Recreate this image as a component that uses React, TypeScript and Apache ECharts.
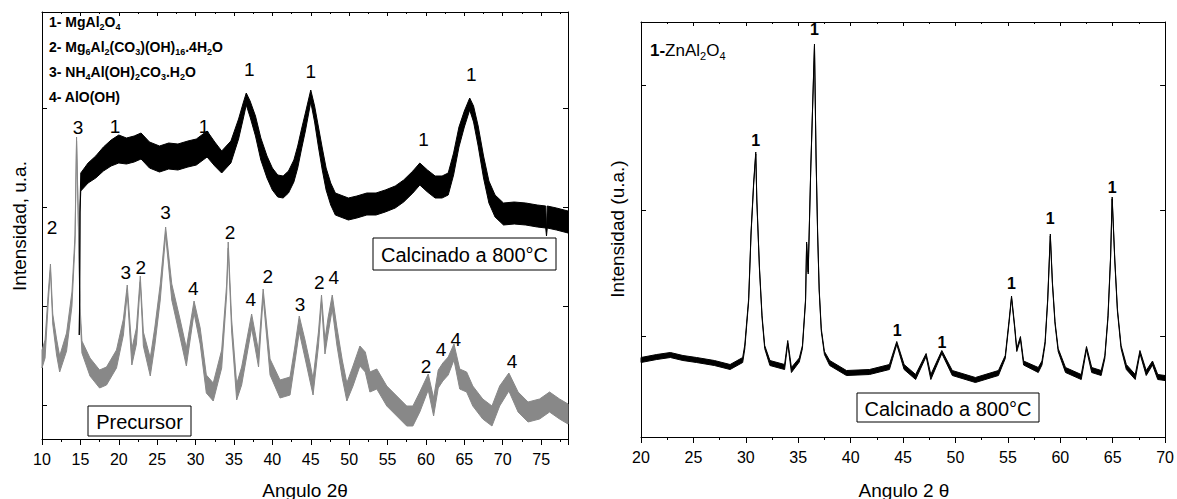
import React, { useEffect, useRef } from "react";
import * as echarts from "echarts";

type Pt = [number, number, number]; // [2theta, intensity (a.u.), noise half-width]
type Lbl = [string, number, number]; // [text, 2theta, intensity]

const FONT = "'Liberation Sans', Arial, Helvetica, sans-serif";

// ---------- Left panel: precursor (grey) ----------
const precursorTrace: Pt[] = [
  [10.0, 80, 9], [10.4, 90, 9], [10.8, 140, 5], [11.1, 172, 3], [11.4, 120, 5], [11.9, 92, 8],
  [12.3, 75, 8], [13.2, 97, 9], [13.9, 140, 7], [14.3, 200, 4], [14.5, 300, 2], [14.7, 230, 3],
  [14.95, 130, 4], [15.2, 92, 6], [16.25, 72, 9], [17.5, 60, 9], [18.4, 63, 9], [19.7, 80, 9],
  [20.6, 112, 8], [21.1, 150, 4], [21.7, 82, 8], [22.3, 103, 8], [22.8, 160, 3], [23.2, 100, 7],
  [24.1, 72, 9], [24.7, 103, 9], [25.4, 147, 8], [26.1, 208, 4], [26.9, 147, 8], [28.0, 110, 9],
  [28.8, 82, 9], [29.8, 132, 6], [30.6, 103, 8], [31.4, 55, 9], [32.3, 47, 9], [33.4, 80, 9],
  [34.05, 150, 5], [34.25, 194, 3], [34.7, 113, 6], [35.35, 47, 8], [36.0, 63, 9], [37.3, 118, 7],
  [38.2, 80, 8], [38.8, 146, 4], [39.7, 72, 8], [41.0, 50, 9], [42.3, 53, 9], [42.9, 83, 8],
  [43.5, 115, 8], [44.25, 90, 9], [44.9, 67, 9], [45.3, 52, 8], [46.0, 100, 7], [46.4, 140, 4],
  [46.85, 92, 7], [47.25, 113, 8], [47.8, 137, 7], [48.4, 103, 9], [49.1, 70, 9], [49.7, 47, 9],
  [50.5, 63, 10], [51.4, 83, 10], [52.1, 77, 10], [52.7, 57, 10], [53.6, 60, 10], [54.9, 43, 10],
  [56.2, 33, 10], [57.5, 23, 10], [58.3, 23, 10], [59.2, 37, 10], [60.3, 57, 8], [61.0, 32, 9],
  [61.6, 60, 9], [62.2, 67, 9], [62.9, 73, 9], [63.65, 87, 8], [64.4, 60, 10], [65.3, 57, 10],
  [66.1, 43, 10], [67.4, 30, 10], [68.6, 23, 10], [69.6, 43, 10], [70.8, 57, 9], [72.0, 37, 10],
  [73.3, 27, 10], [74.8, 30, 10], [76.1, 37, 10], [77.4, 30, 10], [78.5, 25, 10],
];

// ---------- Left panel: calcined at 800 °C (black) ----------
const calcinedMgTrace: Pt[] = [
  [14.85, 105, 1], [14.9, 140, 2], [14.95, 230, 3], [15.05, 257, 9], [16.0, 266, 10], [17.0, 272, 11],
  [18.0, 280, 12], [19.0, 286, 13], [20.0, 290, 14], [21.0, 288, 13], [22.0, 290, 13], [22.9, 293, 13],
  [24.0, 284, 13], [25.3, 280, 13], [26.5, 283, 13], [27.7, 282, 13], [29.0, 285, 13], [30.1, 287, 13],
  [31.5, 295, 13], [32.5, 285, 12], [33.4, 277, 11], [34.6, 287, 11], [35.6, 310, 10], [36.2, 328, 8],
  [36.6, 340, 6], [37.1, 330, 8], [37.8, 313, 10], [38.5, 290, 11], [39.3, 272, 11], [40.0, 260, 11],
  [40.7, 253, 11], [41.4, 252, 11], [42.1, 257, 11], [42.8, 268, 11], [43.3, 282, 11], [43.8, 300, 10],
  [44.3, 317, 9], [45.0, 343, 6], [45.5, 325, 8], [46.0, 302, 10], [46.5, 280, 11], [47.0, 260, 11],
  [47.6, 245, 11], [48.2, 235, 11], [49.9, 230, 11], [51.0, 232, 11], [52.3, 235, 11], [53.5, 235, 11],
  [54.7, 238, 11], [56.0, 242, 11], [57.1, 248, 11], [58.3, 257, 11], [59.2, 265, 11], [60.2, 258, 11],
  [61.2, 252, 11], [62.1, 252, 11], [62.9, 255, 11], [63.6, 275, 11], [64.3, 302, 10], [65.0, 320, 8],
  [65.7, 335, 6], [66.2, 325, 8], [66.8, 303, 10], [67.5, 272, 11], [68.2, 247, 11], [69.0, 233, 11],
  [70.1, 225, 11], [71.5, 226, 11], [73.0, 225, 11], [74.5, 223, 11], [75.6, 222, 11], [75.7, 205, 2],
  [75.8, 222, 11], [77.0, 220, 11], [78.5, 217, 11],
];

// ---------- Right panel: ZnAl2O4 calcined at 800 °C ----------
const calcinedZnTrace: Pt[] = [
  [20.0, 77, 2.5], [21.5, 80, 2.5], [22.8, 82, 2.5], [24.0, 79, 2.5], [25.3, 77, 2.5], [27.0, 74, 2.5],
  [28.5, 70, 2.5], [29.7, 77, 2.5], [29.9, 90, 2], [30.27, 137, 1.2], [30.5, 204, 1], [30.75, 254, 1],
  [30.95, 284, 1], [31.05, 237, 1], [31.3, 169, 1], [31.55, 120, 1.2], [31.8, 90, 1.5], [32.3, 74, 2.5],
  [33.7, 70, 2.5], [34.0, 95, 1.5], [34.35, 67, 2.5], [35.1, 77, 2], [35.4, 90, 1.5], [35.7, 137, 1],
  [35.8, 194, 1], [35.95, 164, 1], [36.2, 270, 1], [36.55, 392, 1], [36.7, 280, 1], [36.85, 204, 1],
  [37.0, 147, 1], [37.2, 107, 1.2], [37.5, 84, 1.5], [38.0, 74, 2.5], [39.6, 64, 2.5], [41.8, 65, 2.5],
  [43.7, 70, 2.5], [44.4, 94, 1.5], [45.1, 70, 2.5], [46.2, 60, 2.5], [47.2, 82, 1.5], [47.65, 60, 2.5],
  [48.7, 85, 1.5], [49.7, 64, 2.5], [51.9, 57, 2.5], [54.1, 64, 2.5], [54.75, 80, 1.5], [55.1, 114, 1.2],
  [55.35, 140, 1], [55.65, 110, 1.2], [55.85, 87, 1.5], [56.2, 99, 1.5], [56.5, 74, 2], [57.9, 67, 2.5],
  [58.25, 74, 2], [58.55, 94, 1.5], [58.8, 137, 1], [59.05, 202, 1], [59.25, 154, 1], [59.5, 114, 1.2],
  [59.8, 87, 1.5], [60.5, 67, 2.5], [62.0, 60, 2.5], [62.5, 89, 1.5], [63.0, 67, 2.5], [63.9, 64, 2.5],
  [64.25, 80, 1.5], [64.55, 120, 1.2], [64.8, 180, 1], [64.95, 239, 1], [65.2, 177, 1], [65.45, 127, 1.2],
  [65.8, 90, 1.5], [66.3, 70, 2.5], [67.15, 60, 2.5], [67.6, 85, 1.5], [68.2, 64, 2.5], [68.8, 74, 2],
  [69.3, 60, 2.5], [70.0, 59, 2.5],
];

// ---------- Peak labels ----------
const leftPeakLabels: Lbl[] = [
  ["1", 19.5, 313], ["1", 31.1, 313], ["1", 37.0, 370], ["1", 45.0, 368], ["1", 59.7, 300], ["1", 65.9, 365],
  ["3", 14.7, 312], ["2", 11.3, 212], ["3", 20.9, 167], ["2", 22.85, 172], ["3", 26.1, 227], ["4", 29.7, 151],
  ["2", 34.5, 207], ["4", 37.2, 140], ["2", 39.4, 163], ["3", 43.6, 135], ["2", 46.1, 157], ["4", 48.0, 162],
  ["2", 60.0, 73], ["4", 61.95, 90], ["4", 63.9, 100], ["4", 71.2, 78],
];
const rightPeakLabels: Lbl[] = [
  ["1", 30.95, 297], ["1", 36.55, 408], ["1", 44.45, 107], ["1", 48.7, 95], ["1", 55.35, 154],
  ["1", 59.05, 219], ["1", 64.95, 250],
];

// ---------- Axis settings ----------
const leftRange = [10, 78.5];
const rightRange = [20, 70];
const leftYMax = 427;
const rightYMax = 415;
const leftYTicks = [34, 133, 232, 331];
const rightYTicks = [101, 227, 352];

function band(data: Pt[], xi: number, yi: number, color: string, z: number) {
  return {
    type: "custom",
    coordinateSystem: "cartesian2d",
    xAxisIndex: xi,
    yAxisIndex: yi,
    silent: true,
    z,
    data: [[data[0][0], data[0][1]]],
    renderItem: (_p: any, api: any) => {
      const upper = data.map((d) => api.coord([d[0], d[1] + d[2]]));
      const lower = data.map((d) => api.coord([d[0], d[1] - d[2]])).reverse();
      return {
        type: "polygon",
        shape: { points: upper.concat(lower) },
        style: { fill: color, stroke: color, lineWidth: 1, lineJoin: "round" },
      };
    },
  };
}

function labels(items: Lbl[], xi: number, yi: number, size: number, weight: string) {
  return {
    type: "scatter",
    xAxisIndex: xi,
    yAxisIndex: yi,
    symbolSize: 1,
    silent: true,
    z: 10,
    itemStyle: { color: "rgba(255,255,255,0)", opacity: 1 },
    data: items.map(([t, x, y]) => ({ name: t, value: [x, y] })),
    label: {
      show: true,
      position: "inside",
      formatter: "{b}",
      color: "#000",
      opacity: 1,
      textBorderWidth: 0,
      fontSize: size,
      fontWeight: weight,
      fontFamily: FONT,
    },
  };
}

const black = { color: "#000", width: 1 };

function xAx(gi: number, range: number[], pos: "bottom" | "top", showMax: boolean) {
  const bottom = pos === "bottom";
  return {
    type: "value",
    gridIndex: gi,
    min: range[0],
    max: range[1],
    interval: 5,
    position: pos,
    axisLine: { show: true, onZero: false, lineStyle: black },
    axisTick: { show: true, inside: !bottom, length: bottom ? 6 : 4, lineStyle: black },
    minorTick: { show: true, splitNumber: 2, length: bottom ? 3 : 2, lineStyle: black },
    axisLabel: {
      show: bottom,
      color: "#000",
      fontSize: 16,
      fontFamily: FONT,
      margin: 12,
      showMaxLabel: showMax,
    },
    splitLine: { show: false },
    minorSplitLine: { show: false },
  };
}

function yAx(gi: number, max: number, pos: "left" | "right", ticks: number[]) {
  return {
    type: "value",
    gridIndex: gi,
    min: 0,
    max,
    position: pos,
    axisLine: { show: true, onZero: false, lineStyle: black },
    axisTick: { show: true, inside: true, length: 5, customValues: ticks, lineStyle: black },
    axisLabel: { show: false },
    splitLine: { show: false },
  };
}

const legendRich = {
  b: { fontSize: 14, fontWeight: "bold", fontFamily: FONT, lineHeight: 18, color: "#000" },
  s: { fontSize: 9, fontWeight: "bold", fontFamily: FONT, lineHeight: 9, verticalAlign: "bottom", color: "#000" },
};
const rightRich = {
  b: { fontSize: 17, fontWeight: "bold", fontFamily: FONT, lineHeight: 22, color: "#000" },
  n: { fontSize: 17, fontFamily: FONT, lineHeight: 22, color: "#000" },
  s: { fontSize: 11, fontFamily: FONT, lineHeight: 11, verticalAlign: "bottom", color: "#000" },
};

const leftLegendLines = [
  "{b|1- MgAl}{s|2}{b|O}{s|4}",
  "{b|2- Mg}{s|6}{b|Al}{s|2}{b|(CO}{s|3}{b|)(OH)}{s|16}{b|.4H}{s|2}{b|O}",
  "{b|3- NH}{s|4}{b|Al(OH)}{s|2}{b|CO}{s|3}{b|.H}{s|2}{b|O}",
  "{b|4- AlO(OH)}",
];

function boxedText(x: number, y: number, w: number, h: number, text: string, size: number) {
  return [
    {
      type: "rect",
      z: 100,
      shape: { x, y, width: w, height: h },
      style: { fill: "#fff", stroke: "#000", lineWidth: 1 },
    },
    {
      type: "text",
      z: 101,
      x: x + w / 2,
      y: y + h / 2 + 1,
      style: { text, font: `${size}px ${FONT}`, fill: "#000", align: "center", verticalAlign: "middle" },
    },
  ];
}

function plainText(x: number, y: number, text: string, size: number, rot = 0) {
  return {
    type: "text",
    z: 101,
    x,
    y,
    rotation: rot,
    style: { text, font: `${size}px ${FONT}`, fill: "#000", align: "center", verticalAlign: "middle" },
  };
}

export default function App() {
  const ref = useRef<HTMLDivElement>(null);
  useEffect(() => {
    if (!ref.current) return;
    const chart = echarts.init(ref.current, undefined, { renderer: "svg" });
    const graphic: any[] = [];
    leftLegendLines.forEach((t, i) => {
      graphic.push({
        type: "text",
        z: 101,
        x: 49,
        y: 22 + i * 25,
        style: { text: t, rich: legendRich, align: "left", verticalAlign: "middle", fill: "#000" },
      });
    });
    graphic.push({
      type: "text",
      z: 101,
      x: 650,
      y: 50,
      style: { text: "{b|1-}{n|ZnAl}{s|2}{n|O}{s|4}", rich: rightRich, align: "left", verticalAlign: "middle", fill: "#000" },
    });
    graphic.push(...boxedText(373, 238, 183, 32, "Calcinado a 800°C", 20));
    graphic.push(...boxedText(857, 393, 182, 29, "Calcinado a 800°C", 20));
    graphic.push(...boxedText(88, 406, 103, 30, "Precursor", 20));
    graphic.push(plainText(305, 490, "Angulo 2θ", 19));
    graphic.push(plainText(904, 490, "Angulo 2 θ", 19));
    graphic.push(plainText(19, 226, "Intensidad, u.a.", 19, Math.PI / 2));
    graphic.push(plainText(617, 229, "Intensidad (u.a.)", 19, Math.PI / 2));

    chart.setOption({
      animation: false,
      backgroundColor: "#fff",
      grid: [
        { left: 42, top: 12, width: 526, height: 427, containLabel: false },
        { left: 641, top: 22, width: 526, height: 415, containLabel: false },
      ],
      xAxis: [
        xAx(0, leftRange, "bottom", false),
        xAx(0, leftRange, "top", false),
        xAx(1, rightRange, "bottom", true),
        xAx(1, rightRange, "top", true),
      ],
      yAxis: [
        yAx(0, leftYMax, "left", leftYTicks),
        yAx(0, leftYMax, "right", leftYTicks),
        yAx(1, rightYMax, "left", rightYTicks),
        yAx(1, rightYMax, "right", rightYTicks),
      ],
      series: [
        band(precursorTrace, 0, 0, "#888888", 2),
        band(calcinedMgTrace, 0, 0, "#000000", 3),
        band(calcinedZnTrace, 2, 2, "#000000", 3),
        labels(leftPeakLabels, 0, 0, 19, "normal"),
        labels(rightPeakLabels, 2, 2, 16, "bold"),
      ],
      graphic,
    });
    return () => chart.dispose();
  }, []);
  return (
    <div
      ref={ref}
      style={{ position: "absolute", left: 0, top: 0, width: 1177, height: 499, background: "#fff" }}
    />
  );
}
